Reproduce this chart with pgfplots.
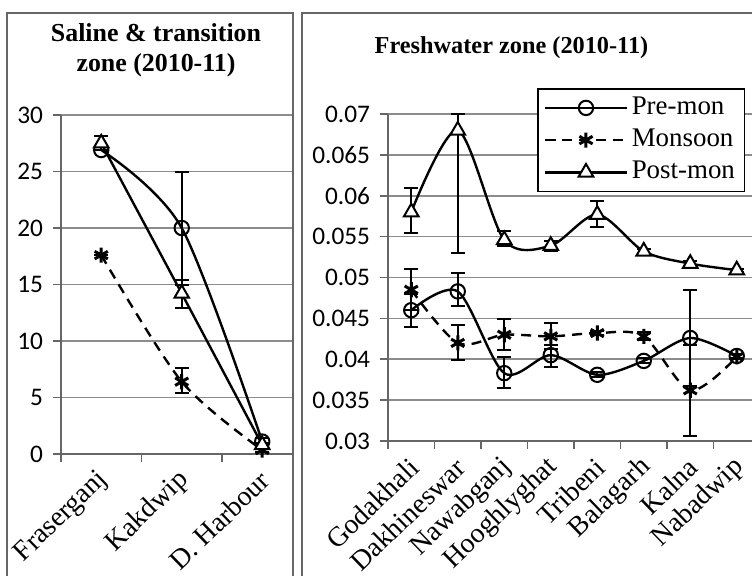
\documentclass[border=0pt]{standalone}
\usepackage{fontspec}
\setmainfont{Liberation Serif}
\newfontfamily\tickfont{Carlito}
\usepackage{pgfplots}
\pgfplotsset{compat=1.18}

\pgfplotsset{
  panel/.style={
    scale only axis, clip=false,
    axis lines=left, axis line style={black!60, line width=0.8bp, -},
    ymajorgrids, grid style={black!45, line width=0.8bp},
    tick align=outside, tick style={black!60, line width=0.8bp},
    major tick length=3.8bp,
    xmin=-0.5,
    yticklabel style={font=\tickfont\fontsize{12.7}{14}\selectfont, inner sep=0pt, xshift=-5bp},
    /pgf/number format/assume math mode=true,
    xticklabels={},
    extra x tick style={major tick length=0pt,
      xticklabel style={font=\fontsize{14}{16}\selectfont, inner sep=0pt,
        xshift=1.5bp, yshift=-11bp, rotate=44, anchor=east}},
  },
  premon/.style={black, line width=1.2bp, smooth, mark=o,
    mark options={solid, fill=white, mark size=3.6bp, line width=1bp}},
  monsoon/.style={black, line width=1.2bp, smooth, dash pattern=on 5bp off 3.5bp, mark=asterisk,
    mark options={solid, mark size=3.8bp, line width=1.5bp}},
  postmon/.style={black, line width=1.2bp, smooth, mark=triangle*,
    mark options={solid, fill=white, mark size=4.2bp, line width=1bp}},
  eb/.style={error bars/.cd, y dir=both, y explicit,
    error bar style={solid, line width=1bp, black},
    error mark options={solid, line width=1bp, mark size=3.5bp, rotate=90}},
}

\begin{document}
\begin{tikzpicture}
\begin{scope}
\clip (0bp,0bp) rectangle (376bp,288bp);
\draw[black!60, line width=1.1bp] (3.5bp,281.5bp) rectangle (146.5bp,-10bp);
\draw[black!60, line width=1.1bp] (151bp,281.5bp) rectangle (400bp,-10bp);

\node[font=\bfseries\fontsize{13}{15}\selectfont, align=center] at (78bp,263bp) {Saline \& transition\\zone (2010-11)};
\node[font=\bfseries\fontsize{12.2}{14}\selectfont] at (255.75bp,264bp) {Freshwater zone (2010-11)};

% saline & transition zone
\begin{axis}[panel,
  at={(30.5bp,61bp)}, anchor=south west,
  width=115.5bp, height=169.5bp,
  xmax=2.37, ymin=0, ymax=30,
  ytick={0,5,10,15,20,25,30},
  xtick={-0.5,0.5,1.5},
  extra x ticks={0,1,2},
  extra x tick labels={Fraserganj, Kakdwip, D. Harbour},
]
\addplot[premon, eb] coordinates {
  (0,26.9) += (0,0) -= (0,0)
  (1,20.0) += (0,5.0) -= (0,5.0)
  (2,1.1)  += (0,0.3) -= (0,0.3)
};
\addplot[monsoon, eb] coordinates {
  (0,17.6) += (0,0) -= (0,0)
  (1,6.4)  += (0,1.2) -= (0,1.0)
  (2,0.35) += (0,0.2) -= (0,0.2)
};
\addplot[postmon, eb] coordinates {
  (0,27.5) += (0,0.6) -= (0,0.6)
  (1,14.2) += (0,1.2) -= (0,1.3)
  (2,0.8)  += (0,0.2) -= (0,0.2)
};
\end{axis}

% freshwater zone
\begin{axis}[panel,
  at={(194bp,67.5bp)}, anchor=south west,
  width=186bp, height=163.5bp,
  xmax=7.5, ymin=0.03, ymax=0.07,
  ytick={0.03,0.035,0.04,0.045,0.05,0.055,0.06,0.065,0.07},
  scaled y ticks=false,
  yticklabel style={/pgf/number format/fixed, /pgf/number format/precision=3},
  xtick={-0.5,0.5,1.5,2.5,3.5,4.5,5.5,6.5},
  extra x ticks={0,1,2,3,4,5,6,7},
  extra x tick labels={Godakhali, Dakhineswar, Nawabganj, Hooghlyghat, Tribeni, Balagarh, Kalna, Nabadwip},
  legend style={at={(0.4005,1.0795)}, anchor=north west, draw=black, line width=0.8bp,
    fill=white, font=\fontsize{13.5}{16}\selectfont, inner xsep=3bp, inner ysep=1.5bp,
    row sep=0pt, nodes={inner sep=1.8bp, text height=9.5bp, text depth=3bp}},
  legend cell align=left,
  legend image code/.code={\draw[mark repeat=2, mark phase=2, #1]
    plot coordinates {(0bp,0bp) (20.5bp,0bp) (41bp,0bp)};},
]
\addplot[premon, eb] coordinates {
  (0,0.0460) += (0,0.0020) -= (0,0.0020)
  (1,0.0483) += (0,0.0023) -= (0,0.0018)
  (2,0.0383) += (0,0.0020) -= (0,0.0018)
  (3,0.0405) += (0,0.0012) -= (0,0.0014)
  (4,0.0381) += (0,0.0003) -= (0,0.0003)
  (5,0.0398) += (0,0.0003) -= (0,0.0003)
  (6,0.0426) += (0,0.0059) -= (0,0.0059)
  (7,0.0404) += (0,0.0003) -= (0,0.0003)
};
\addlegendentry{Pre-mon}
\addplot[monsoon, eb] coordinates {
  (0,0.0485) += (0,0.0025) -= (0,0.0025)
  (1,0.0420) += (0,0.0022) -= (0,0.0021)
  (2,0.0430) += (0,0.0019) -= (0,0.0019)
  (3,0.0428) += (0,0.0016) -= (0,0.0015)
  (4,0.0432) += (0,0.0002) -= (0,0.0002)
  (5,0.0428) += (0,0.0005) -= (0,0.0005)
  (6,0.0362) += (0,0.0056) -= (0,0.0056)
  (7,0.0403) += (0,0.0003) -= (0,0.0003)
};
\addlegendentry{Monsoon}
\addplot[postmon, eb] coordinates {
  (0,0.0580) += (0,0.0030) -= (0,0.0026)
  (1,0.0680) += (0,0.0020) -= (0,0.0150)
  (2,0.0546) += (0,0.0011) -= (0,0.0008)
  (3,0.0539) += (0,0.0006) -= (0,0.0006)
  (4,0.0577) += (0,0.0016) -= (0,0.0015)
  (5,0.0532) += (0,0.0003) -= (0,0.0003)
  (6,0.0517) += (0,0.0003) -= (0,0.0003)
  (7,0.0509) += (0,0.0002) -= (0,0.0002)
};
\addlegendentry{Post-mon}
\end{axis}
\end{scope}
\pgfresetboundingbox
\useasboundingbox (0bp,0bp) rectangle (376bp,288bp);
\end{tikzpicture}
\end{document}
